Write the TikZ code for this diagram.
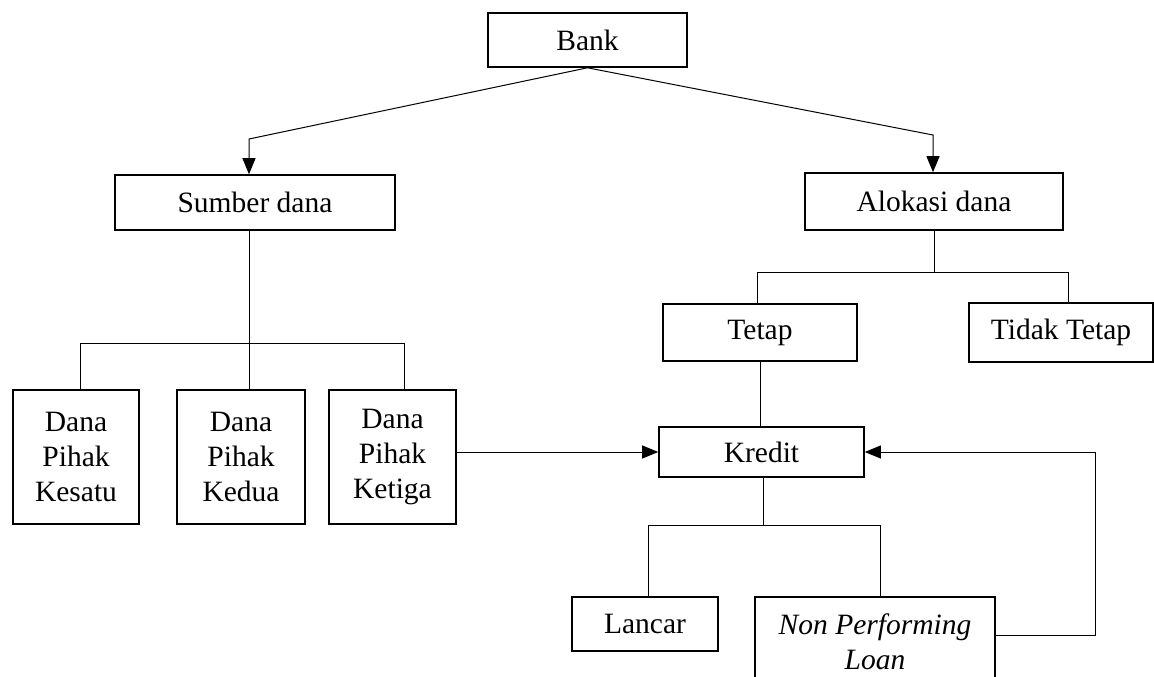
\documentclass[tikz,border=0pt]{standalone}
\usepackage{fontspec}
\setmainfont{Liberation Serif}
\usetikzlibrary{arrows.meta}
\begin{document}
\begin{tikzpicture}[x=1pt,y=-1pt,
  box/.style={draw, line width=1.6pt, inner sep=0pt, align=center,
    font=\fontsize{29.5}{35}\selectfont},
  conn/.style={line width=1pt},
  arr/.style={conn, -{Triangle[length=16pt,width=13pt]}}]
\useasboundingbox (0,0) rectangle (1154,677);
\node[box, minimum width=199pt, minimum height=54pt] (bank) at (587.5,40) {Bank};
\node[box, minimum width=280pt, minimum height=55pt] (sumber) at (255,202.5) {Sumber dana};
\node[box, minimum width=258pt, minimum height=57pt] (alokasi) at (934,201.5) {Alokasi dana};
\node[box, minimum width=126pt, minimum height=134pt] (kesatu) at (76,457) {Dana\\Pihak\\Kesatu};
\node[box, minimum width=128pt, minimum height=134pt] (kedua) at (241,457) {Dana\\Pihak\\Kedua};
\node[box, minimum width=127pt, minimum height=134pt] (ketiga) at (392.5,457) {Dana\\Pihak\\Ketiga};
\node[box, minimum width=194pt, minimum height=57pt] (tetap) at (760,332.5) {Tetap};
\node[box, minimum width=184pt, minimum height=59pt] (tidak) at (1061,332.5) {Tidak Tetap};
\node[box, minimum width=205pt, minimum height=50pt] (kredit) at (761.5,452) {Kredit};
\node[box, minimum width=146pt, minimum height=54pt] (lancar) at (645,624) {Lancar};
\node[box, minimum width=240pt, minimum height=90pt, font=\fontsize{29.5}{35}\selectfont\itshape] (npl) at (875,642) {Non Performing\\Loan};
% Bank to children
\coordinate (b1) at (249,139);
\coordinate (b2) at (933,135);
\draw[arr] (bank.south) -- (b1) -- (b1 |- sumber.north);
\draw[arr] (bank.south) -- (b2) -- (b2 |- alokasi.north);
% Sumber dana to its children
\coordinate (s0) at (249,343);
\coordinate (s1) at (80,343);
\coordinate (s3) at (404,343);
\draw[conn] (s0 |- sumber.south) -- (s0);
\draw[conn] (s1 |- kesatu.north) -- (s1) -- (s3) -- (s3 |- ketiga.north);
\draw[conn] (s0) -- (s0 |- kedua.north);
% Ketiga to Kredit
\draw[arr] (ketiga.east |- kredit.west) -- (kredit.west);
% Alokasi dana to its children
\coordinate (a0) at (934,272);
\coordinate (a1) at (757,272);
\coordinate (a2) at (1068,272);
\draw[conn] (alokasi.south) -- (a0);
\draw[conn] (a1 |- tetap.north) -- (a1) -- (a2) -- (a2 |- tidak.north);
% Tetap to Kredit
\draw[conn] (tetap.south) -- (tetap.south |- kredit.north);
% Kredit to its children
\coordinate (k0) at (763,525);
\coordinate (k1) at (648,525);
\coordinate (k2) at (880,525);
\draw[conn] (k0 |- kredit.south) -- (k0);
\draw[conn] (k1 |- lancar.north) -- (k1) -- (k2) -- (k2 |- npl.north);
% Feedback from NPL to Kredit
\coordinate (f0) at (1095,635);
\draw[arr] (npl.east |- f0) -- (f0) |- (kredit.east);
\end{tikzpicture}
\end{document}
